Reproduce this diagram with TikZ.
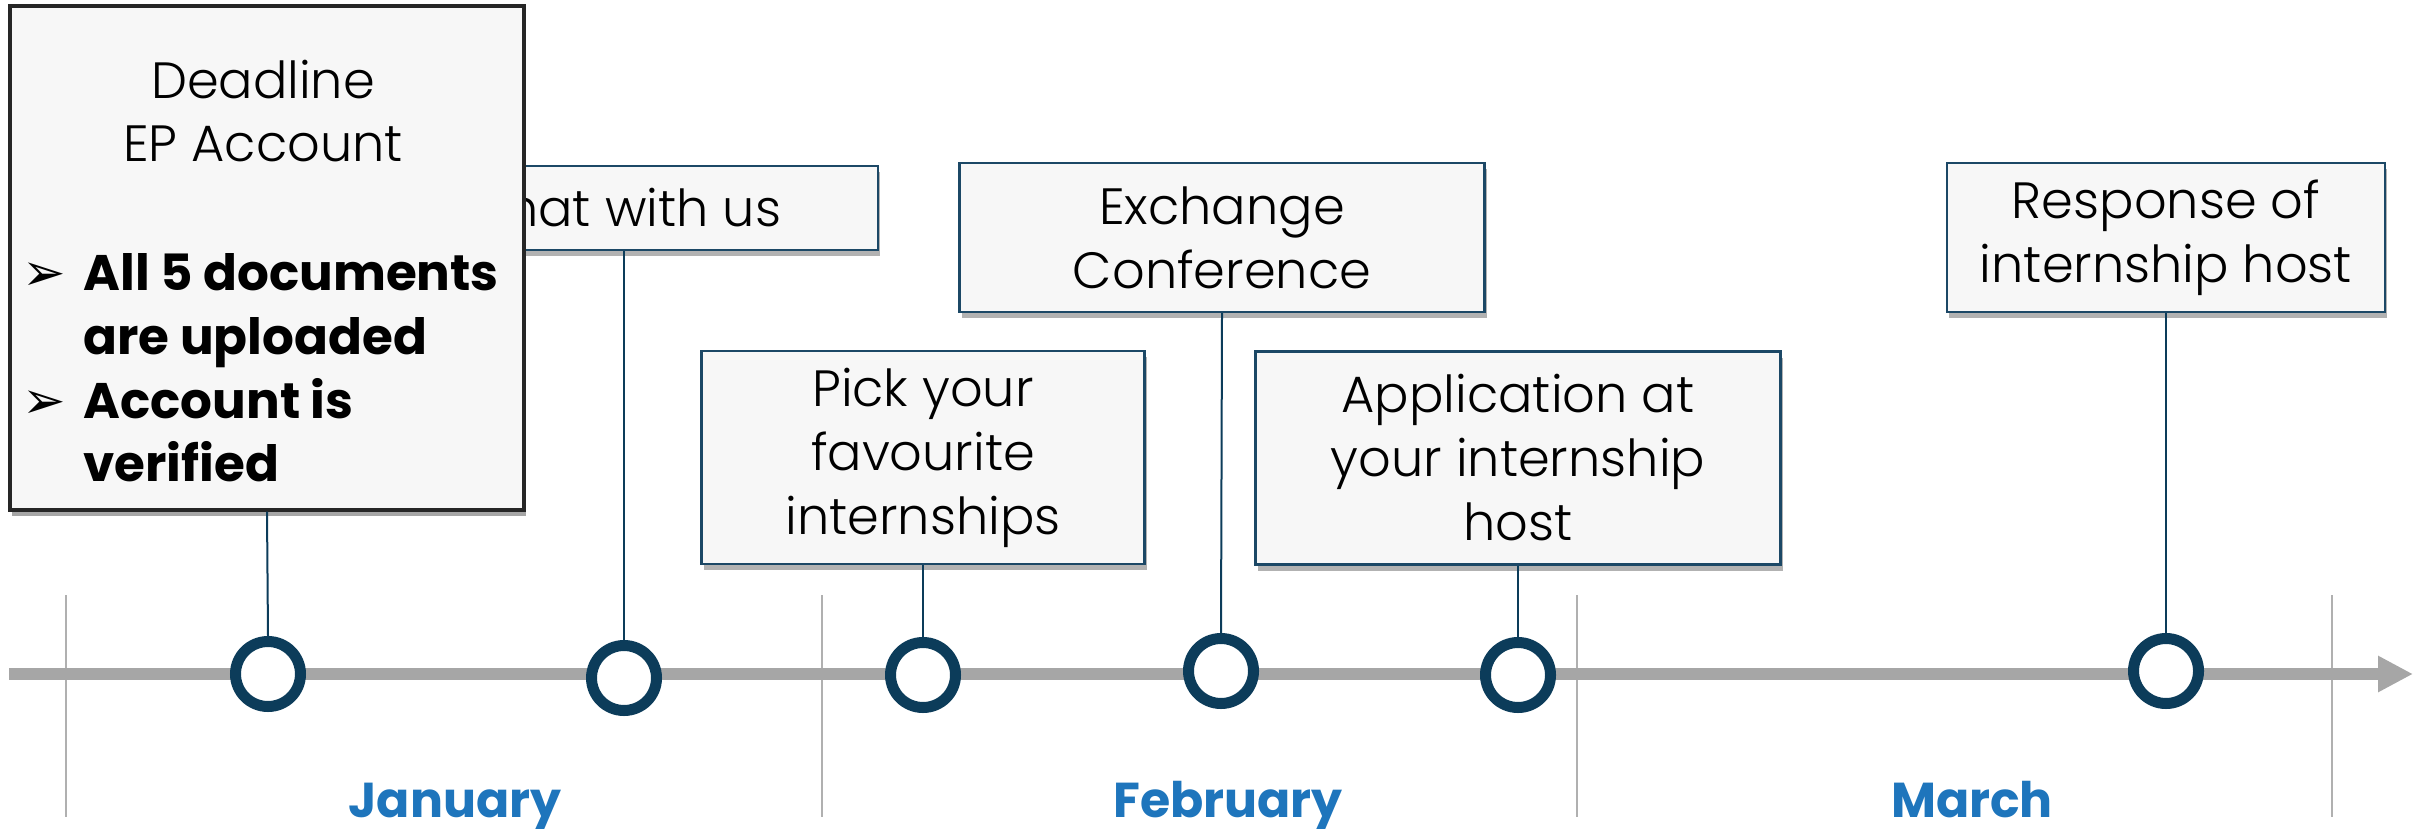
\documentclass[tikz,border=0pt]{standalone}
\usepackage{fontspec}
\setmainfont{Poppins}[UprightFont={* Light},BoldFont={* Bold}]
\newfontfamily\symbfont{DejaVu Sans}
\usetikzlibrary{arrows.meta}
\usetikzlibrary{shadows}

\definecolor{navy}{HTML}{0C3C5A}
\definecolor{boxline}{HTML}{1C4866}
\definecolor{barg}{HTML}{A6A6A6}
\definecolor{sepg}{HTML}{B0B0B0}
\definecolor{monthblue}{HTML}{1E75BC}
\definecolor{boxfill}{HTML}{F7F7F7}

\tikzset{
    event/.style={draw=boxline, line width=1.2pt, fill=boxfill, align=center, inner sep=0pt,
        font=\fontsize{25.5}{32}\selectfont,
        drop shadow={shadow xshift=1pt, shadow yshift=-3pt, opacity=0.3, fill=black}},
    deadbox/.style={draw=black!85, line width=1.6pt, fill=boxfill, inner sep=0pt,
        drop shadow={shadow xshift=1pt, shadow yshift=-3pt, opacity=0.35, fill=black}},
    title/.style={inner sep=0pt, font=\fontsize{25.5}{32}\selectfont},
    point/.style={inner sep=0pt, font=\bfseries\fontsize{25}{32}\selectfont},
    tick/.style={inner sep=0pt, font=\symbfont\fontsize{26}{32}\selectfont},
    dot/.style={circle, draw=navy, line width=5.5pt, fill=white, minimum size=32.5pt, inner sep=0pt},
    stem/.style={draw=navy, line width=1pt},
    month/.style={inner sep=0pt, text=monthblue, font=\bfseries\fontsize{24.5}{32}\selectfont}
}

\begin{document}
\begin{tikzpicture}[x=0.5pt, y=-0.5pt]
                \useasboundingbox (0,0) rectangle (2423,829);
                \foreach \x in {66,822,1577,2332}
                {
                    \draw[sepg, line width=1pt] (\x,595) -- (\x,817);
                }
                \coordinate (tl0) at (9,674);
                \coordinate (tl1) at (2413,674);
                \draw[barg, line width=6pt, -{Triangle[length=17.5pt, width=17pt]}] (tl0) -- (tl1);
                \foreach \i/\x/\y in {1/268/674,2/624/678,3/923/675,4/1221/671,5/1518/675,6/2166/671}
                {
                    \node[dot] (c\i) at (\x,\y) {};
                }
                \node[event, minimum width=254pt, minimum height=42pt] (chat) at (624,208) {Chat with us};
                \node[event, minimum width=221.5pt, minimum height=106.5pt] (pick) at (923,457.5) {Pick your\\favourite\\internships};
                \node[event, minimum width=262.5pt, minimum height=74.5pt] (exch) at (1222,237.5) {Exchange\\Conference};
                \node[event, minimum width=262.5pt, minimum height=106.5pt] (appl) at (1518,458) {Application at\\your internship\\host};
                \node[event, minimum width=219pt, minimum height=74.5pt] (resp) at (2166,237.5) {Response of\\internship host};
                \node[deadbox, minimum width=257pt, minimum height=252pt] (dl) at (267,258) {};
                \node[title, anchor=base] (dlt1) at (263,98) {Deadline};
                \node[title, anchor=base] (dlt2) at (263,162) {EP Account};
                \foreach \n/\y/\t in {p1/290/All 5 documents,p2/354/are uploaded,p3/418/Account is,p4/481/verified}
                {
                    \node[point, anchor=base west] (\n) at (83,\y) {\t};
                }
                \node[tick, anchor=base west] (k1) at (22,290) {➢};
                \node[tick, anchor=base west] (k2) at (22,418) {➢};
                \foreach \b/\c in {dl/c1,chat/c2,pick/c3,exch/c4,appl/c5,resp/c6}
                {
                    \draw[stem] (\b.south) -- (\c.north);
                }
                \node[month, anchor=base] (jan) at (455,817) {January};
                \node[month, anchor=base] (feb) at (1228,817) {February};
                \node[month, anchor=base] (mar) at (1972,817) {March};
            \end{tikzpicture}
\end{document}
